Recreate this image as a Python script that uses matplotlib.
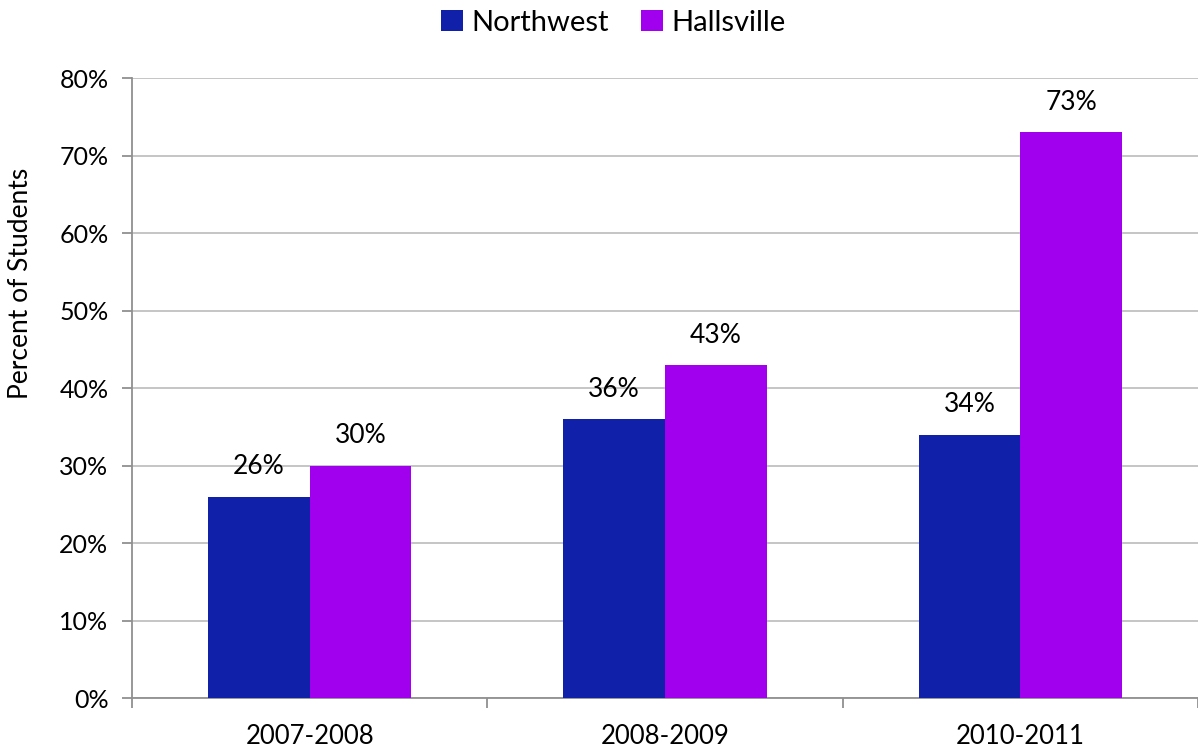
import numpy as np
import matplotlib
matplotlib.use("Agg")
import matplotlib.pyplot as plt

plt.rcParams['font.family'] = ['Lato', 'DejaVu Sans']

years = ["2007-2008", "2008-2009", "2010-2011"]
northwest = [26, 36, 34]
hallsville = [30, 43, 73]

fig = plt.figure(figsize=(11.98, 7.5), dpi=100)
ax = fig.add_axes([0.1102, 0.0693, 0.8898, 0.8267])

x = np.arange(len(years))
w = 0.286
b1 = ax.bar(x - w / 2, northwest, w, color="#1020A8", label="Northwest", zorder=3)
b2 = ax.bar(x + w / 2, hallsville, w, color="#A000EE", label="Hallsville", zorder=3)

for bars, vals in ((b1, northwest), (b2, hallsville)):
    for r, v in zip(bars, vals):
        ax.text(r.get_x() + r.get_width() / 2, v + 2.2, f"{v}%",
                ha="center", va="bottom", fontsize=19)

ax.set_ylim(0, 80)
ax.set_xlim(-0.5, 2.478)
ax.set_yticks(range(0, 81, 10))
ax.set_yticklabels([f"{t}%" for t in range(0, 81, 10)], fontsize=18)
ax.yaxis.grid(True, color="#C0C0C0", linewidth=1.3, zorder=0)

# category labels centered, tick marks at the boundaries
ax.set_xticks(x)
ax.set_xticklabels(years, fontsize=18.5)
ax.tick_params(axis="x", length=0, pad=19)
ax.set_xticks([-0.5, 0.5, 1.5, 2.5], minor=True)
ax.tick_params(axis="x", which="minor", length=7, color="#909090", width=1.3)
ax.tick_params(axis="y", length=7, color="#909090", width=1.3, pad=10)

for s in ("top", "right"):
    ax.spines[s].set_visible(False)
for s in ("left", "bottom"):
    ax.spines[s].set_color("#909090")
    ax.spines[s].set_linewidth(1.3)

ax.set_ylabel("Percent of Students", fontsize=19)
ax.yaxis.set_label_coords(-0.093, 0.668)

fig.legend(handles=[b1, b2], loc="upper center", bbox_to_anchor=(0.512, 1.022),
           ncol=2, frameon=False, fontsize=21, handlelength=0.75, handleheight=0.75,
           columnspacing=1.1, handletextpad=0.3)

fig.savefig("out.png", dpi=100)
